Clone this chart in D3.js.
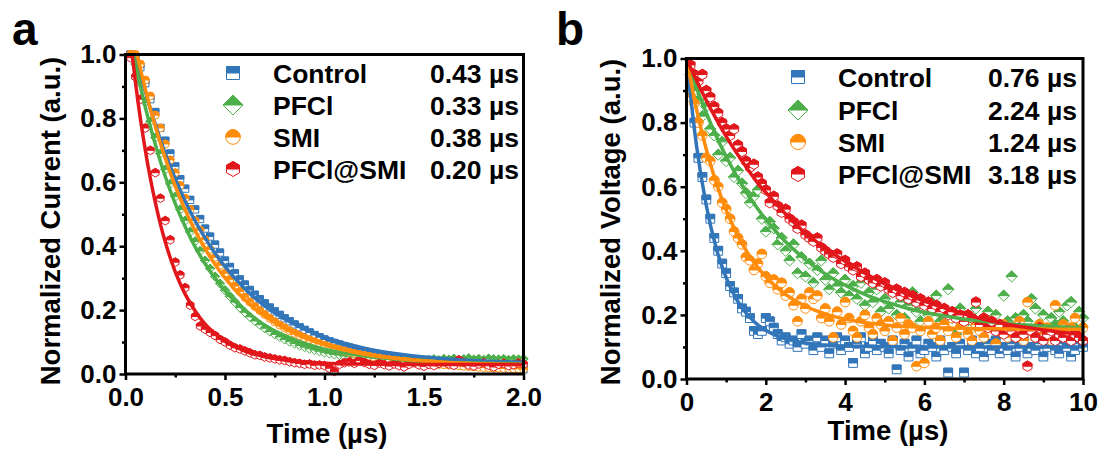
<!DOCTYPE html>
<html>
<head>
<meta charset="utf-8">
<script src="https://cdn.jsdelivr.net/npm/d3@7"></script>
<style>
  html, body { margin: 0; padding: 0; background: #fff; }
  svg { display: block; }
  text { font-family: "Liberation Sans", Arial, sans-serif; font-weight: bold; fill: #000; }
</style>
</head>
<body>
<svg id="fig" width="1103" height="450"></svg>
<script>
// ---- series definitions ----
const seriesNames  = ["Control", "PFCl", "SMI", "PFCl@SMI"];
const seriesColors = ["#3276b9", "#4caf4a", "#ff8c0a", "#e2171c"];
const seriesShapes = ["square", "diamond", "circle", "hexagon"];
const lifetimesA = ["0.43 µs", "0.33 µs", "0.38 µs", "0.20 µs"];
const lifetimesB = ["0.76 µs", "2.24 µs", "1.24 µs", "3.18 µs"];

// ---- panel a: transient photocurrent (sampled every 0.025 µs from 0.025 µs) ----
const timeStartA = 0.025, timeStepA = 0.025;
const currentControl = [
  1.00, 0.99, 0.96, 0.91, 0.86, 0.82, 0.77, 0.73, 0.69, 0.65,
  0.61, 0.58, 0.545, 0.515, 0.485, 0.455, 0.43, 0.405, 0.38, 0.355,
  0.335, 0.315, 0.296, 0.28, 0.263, 0.248, 0.234, 0.221, 0.208, 0.196,
  0.185, 0.174, 0.165, 0.155, 0.146, 0.138, 0.130, 0.122, 0.115, 0.108,
  0.102, 0.097, 0.092, 0.087, 0.082, 0.078, 0.074, 0.070, 0.067, 0.063,
  0.060, 0.057, 0.055, 0.052, 0.050, 0.048, 0.046, 0.044, 0.042, 0.041,
  0.040, 0.038, 0.037, 0.036, 0.035, 0.034, 0.034, 0.033, 0.032, 0.031,
  0.030, 0.028, 0.026, 0.024, 0.022, 0.020, 0.018, 0.016, 0.015, 0.014
];
const currentPFCl = [
  1.00, 0.97, 0.91, 0.85, 0.79, 0.74, 0.69, 0.64, 0.595, 0.555,
  0.515, 0.48, 0.445, 0.415, 0.385, 0.355, 0.33, 0.305, 0.283, 0.262,
  0.243, 0.225, 0.208, 0.193, 0.179, 0.166, 0.154, 0.143, 0.133, 0.124,
  0.116, 0.108, 0.101, 0.095, 0.089, 0.084, 0.079, 0.075, 0.071, 0.067,
  0.064, 0.061, 0.059, 0.056, 0.054, 0.052, 0.050, 0.049, 0.047, 0.046,
  0.045, 0.044, 0.043, 0.042, 0.042, 0.041, 0.041, 0.040, 0.040, 0.040,
  0.044, 0.046, 0.043, 0.047, 0.045, 0.048, 0.044, 0.046, 0.049, 0.045,
  0.047, 0.044, 0.048, 0.046, 0.045, 0.047, 0.044, 0.046, 0.045, 0.047
];
const currentSMI = [
  1.00, 1.00, 0.97, 0.92, 0.87, 0.81, 0.77, 0.72, 0.67, 0.63,
  0.59, 0.55, 0.515, 0.48, 0.45, 0.42, 0.39, 0.365, 0.34, 0.315,
  0.295, 0.275, 0.258, 0.240, 0.225, 0.211, 0.198, 0.186, 0.174, 0.163,
  0.153, 0.144, 0.135, 0.127, 0.120, 0.113, 0.107, 0.101, 0.095, 0.090,
  0.085, 0.080, 0.076, 0.072, 0.068, 0.064, 0.061, 0.058, 0.055, 0.052,
  0.050, 0.047, 0.045, 0.043, 0.041, 0.040, 0.038, 0.037, 0.035, 0.034,
  0.033, 0.032, 0.030, 0.029, 0.028, 0.027, 0.026, 0.024, 0.023, 0.022,
  0.021, 0.020, 0.019, 0.018, 0.018, 0.017, 0.017, 0.016, 0.016, 0.015
];
const currentPFClSMI = [
  0.99, 0.93, 0.86, 0.77, 0.70, 0.63, 0.55, 0.48, 0.42, 0.35,
  0.31, 0.27, 0.215, 0.18, 0.15, 0.14, 0.13, 0.12, 0.108, 0.100,
  0.090, 0.082, 0.078, 0.072, 0.066, 0.060, 0.058, 0.053, 0.050, 0.047,
  0.044, 0.042, 0.038, 0.035, 0.033, 0.030, 0.031, 0.027, 0.028, 0.026,
  0.018, 0.008, 0.030, 0.035, 0.038, 0.033, 0.042, 0.036, 0.030, 0.027,
  0.034, 0.029, 0.025, 0.031, 0.026, 0.022, 0.030, 0.035, 0.028, 0.024,
  0.030, 0.026, 0.033, 0.038, 0.031, 0.027, 0.044, 0.036, 0.028, 0.025,
  0.031, 0.035, 0.027, 0.022, 0.030, 0.033, 0.026, 0.029, 0.034, 0.031
];

// exponential fit curves, panel a
const fitTimesA = [0.02, 0.05, 0.075, 0.1, 0.125, 0.15, 0.175, 0.2, 0.25, 0.3, 0.35, 0.4,
                   0.45, 0.5, 0.6, 0.7, 0.8, 0.9, 1.0, 1.2, 1.4, 1.6, 1.8, 2.0];
const fitCurrentControl = [1.078, 1.000, 0.940, 0.884, 0.830, 0.781, 0.734, 0.690, 0.611, 0.541, 0.479, 0.426,
                           0.378, 0.336, 0.267, 0.213, 0.172, 0.140, 0.115, 0.081, 0.060, 0.048, 0.041, 0.037];
const fitCurrentPFCl    = [1.063, 0.970, 0.900, 0.834, 0.774, 0.718, 0.666, 0.618, 0.533, 0.461, 0.398, 0.345,
                           0.300, 0.260, 0.199, 0.153, 0.120, 0.096, 0.078, 0.056, 0.044, 0.037, 0.034, 0.032];
const fitCurrentSMI     = [1.112, 1.022, 0.954, 0.890, 0.830, 0.775, 0.723, 0.675, 0.588, 0.513, 0.448, 0.392,
                           0.343, 0.301, 0.232, 0.181, 0.142, 0.113, 0.091, 0.062, 0.046, 0.037, 0.032, 0.029];
const fitCurrentPFClSMI = [1.073, 0.913, 0.798, 0.699, 0.612, 0.536, 0.470, 0.413, 0.320, 0.250, 0.197, 0.156,
                           0.126, 0.102, 0.072, 0.054, 0.044, 0.038, 0.034, 0.031, 0.030, 0.030, 0.030, 0.030];

// ---- panel b: transient photovoltage (sampled every 0.1 µs from 0.1 µs) ----
const timeStartB = 0.1, timeStepB = 0.1;
const voltageControl = [
  0.90, 0.80, 0.69, 0.63, 0.56, 0.50, 0.44, 0.40, 0.36, 0.33,
  0.29, 0.27, 0.25, 0.22, 0.21, 0.19, 0.15, 0.14, 0.15, 0.19,
  0.18, 0.16, 0.14, 0.12, 0.13, 0.11, 0.12, 0.10, 0.14, 0.11,
  0.12, 0.09, 0.13, 0.10, 0.12, 0.08, 0.11, 0.13, 0.09, 0.12,
  0.10, 0.05, 0.11, 0.13, 0.08, 0.10, 0.12, 0.09, 0.11, 0.10,
  0.08, 0.12, 0.03, 0.09, 0.11, 0.07, 0.10, 0.12, 0.08, 0.09,
  0.11, 0.10, 0.07, 0.12, 0.09, 0.02, 0.10, 0.08, 0.11, 0.02,
  0.09, 0.12, 0.08, 0.10, 0.07, 0.11, 0.09, 0.12, 0.08, 0.10,
  0.09, 0.11, 0.07, 0.10, 0.12, 0.08, 0.10, 0.09, 0.11, 0.07,
  0.10, 0.12, 0.09, 0.08, 0.11, 0.10, 0.07, 0.09, 0.11, 0.10
];
const voltagePFCl = [
  0.95, 0.90, 0.87, 0.82, 0.85, 0.78, 0.76, 0.70, 0.74, 0.68,
  0.69, 0.63, 0.65, 0.61, 0.58, 0.55, 0.57, 0.59, 0.50, 0.46,
  0.49, 0.47, 0.42, 0.44, 0.40, 0.37, 0.42, 0.33, 0.38, 0.32,
  0.36, 0.30, 0.34, 0.37, 0.31, 0.28, 0.33, 0.29, 0.27, 0.31,
  0.26, 0.29, 0.25, 0.30, 0.23, 0.27, 0.24, 0.28, 0.21, 0.25,
  0.22, 0.27, 0.20, 0.24, 0.19, 0.23, 0.27, 0.21, 0.18, 0.22,
  0.20, 0.24, 0.26, 0.18, 0.21, 0.28, 0.19, 0.14, 0.22, 0.17,
  0.20, 0.18, 0.22, 0.15, 0.19, 0.21, 0.17, 0.20, 0.16, 0.26,
  0.18, 0.32, 0.19, 0.16, 0.20, 0.18, 0.25, 0.22, 0.17, 0.20,
  0.15, 0.19, 0.17, 0.21, 0.18, 0.23, 0.24, 0.16, 0.21, 0.19
];
const voltageSMI = [
  0.88, 0.86, 0.80, 0.76, 0.69, 0.68, 0.62, 0.60, 0.55, 0.53,
  0.50, 0.46, 0.44, 0.42, 0.38, 0.37, 0.34, 0.36, 0.39, 0.32,
  0.30, 0.31, 0.28, 0.30, 0.26, 0.27, 0.23, 0.18, 0.25, 0.22,
  0.27, 0.25, 0.26, 0.19, 0.22, 0.18, 0.13, 0.21, 0.17, 0.24,
  0.19, 0.15, 0.13, 0.18, 0.20, 0.16, 0.14, 0.19, 0.17, 0.15,
  0.18, 0.12, 0.16, 0.19, 0.14, 0.17, 0.16, 0.04, 0.15, 0.05,
  0.18, 0.14, 0.16, 0.12, 0.17, 0.15, 0.19, 0.13, 0.16, 0.18,
  0.14, 0.12, 0.17, 0.15, 0.13, 0.18, 0.16, 0.11, 0.15, 0.17,
  0.13, 0.16, 0.14, 0.18, 0.12, 0.24, 0.15, 0.13, 0.17, 0.14,
  0.16, 0.12, 0.23, 0.15, 0.17, 0.13, 0.16, 0.19, 0.14, 0.16
];
const voltagePFClSMI = [
  0.98, 0.95, 0.93, 0.95, 0.90, 0.88, 0.85, 0.83, 0.80, 0.78,
  0.76, 0.78, 0.73, 0.71, 0.68, 0.66, 0.67, 0.63, 0.61, 0.59,
  0.55, 0.57, 0.54, 0.52, 0.53, 0.50, 0.49, 0.47, 0.48, 0.45,
  0.44, 0.43, 0.44, 0.41, 0.40, 0.39, 0.38, 0.39, 0.36, 0.37,
  0.35, 0.34, 0.35, 0.32, 0.33, 0.31, 0.30, 0.31, 0.29, 0.30,
  0.28, 0.27, 0.28, 0.26, 0.27, 0.25, 0.26, 0.24, 0.25, 0.23,
  0.24, 0.22, 0.23, 0.21, 0.22, 0.20, 0.21, 0.19, 0.20, 0.18,
  0.20, 0.19, 0.24, 0.17, 0.19, 0.16, 0.18, 0.15, 0.17, 0.14,
  0.16, 0.15, 0.13, 0.16, 0.14, 0.04, 0.15, 0.13, 0.16, 0.12,
  0.14, 0.15, 0.12, 0.14, 0.13, 0.15, 0.12, 0.14, 0.13, 0.12
];

// exponential fit curves, panel b (every 0.25 µs from 0)
const fitStartB = 0, fitStepB = 0.25;
const fitVoltageControl = [
  1.000, 0.730, 0.541, 0.408, 0.316, 0.251, 0.206, 0.174, 0.152, 0.136, 0.125,
  0.118, 0.112, 0.109, 0.106, 0.104, 0.103, 0.102, 0.102, 0.101, 0.101, 0.101,
  0.100, 0.100, 0.100, 0.100, 0.100, 0.100, 0.100, 0.100, 0.100, 0.100, 0.100,
  0.100, 0.100, 0.100, 0.100, 0.100, 0.100, 0.100, 0.100
];
const fitVoltagePFCl = [
  1.000, 0.910, 0.830, 0.758, 0.694, 0.637, 0.585, 0.539, 0.498, 0.461, 0.428,
  0.399, 0.373, 0.349, 0.328, 0.309, 0.293, 0.278, 0.264, 0.252, 0.241, 0.232,
  0.223, 0.215, 0.208, 0.202, 0.197, 0.192, 0.187, 0.183, 0.180, 0.177, 0.174,
  0.171, 0.169, 0.167, 0.165, 0.164, 0.162, 0.161, 0.160
];
const fitVoltageSMI = [
  1.000, 0.843, 0.716, 0.612, 0.527, 0.458, 0.402, 0.356, 0.319, 0.289, 0.264,
  0.244, 0.227, 0.214, 0.203, 0.194, 0.187, 0.181, 0.176, 0.172, 0.169, 0.166,
  0.164, 0.163, 0.161, 0.160, 0.159, 0.158, 0.158, 0.157, 0.157, 0.157, 0.156,
  0.156, 0.156, 0.156, 0.156, 0.155, 0.155, 0.155, 0.155
];
const fitVoltagePFClSMI = [
  1.000, 0.932, 0.869, 0.811, 0.757, 0.708, 0.662, 0.619, 0.582, 0.548, 0.515,
  0.484, 0.455, 0.431, 0.408, 0.387, 0.367, 0.348, 0.330, 0.313, 0.297, 0.282,
  0.268, 0.255, 0.243, 0.232, 0.222, 0.212, 0.203, 0.194, 0.186, 0.179, 0.173,
  0.167, 0.162, 0.158, 0.153, 0.149, 0.145, 0.142, 0.139
];

// ---- tick values ----
const xTicksA = [0, 0.5, 1.0, 1.5, 2.0];
const xMinorA = [0.25, 0.75, 1.25, 1.75];
const xTicksB = [0, 2, 4, 6, 8, 10];
const xMinorB = [1, 3, 5, 7, 9];
const yTicks  = [0, 0.2, 0.4, 0.6, 0.8, 1.0];
const yMinor  = [0.1, 0.3, 0.5, 0.7, 0.9];

// ---- helpers ----
const grid = (start, step, n) => d3.range(n).map(i => +(start + i * step).toFixed(4));

// half-filled marker outlines centred on the origin: full outline + upper half
function markerPaths(shape, r) {
  if (shape === "square") {
    return { full: `M${-r},${-r}H${r}V${r}H${-r}Z`, top: `M${-r},${-r}H${r}V0H${-r}Z` };
  }
  if (shape === "diamond") {
    return { full: `M0,${-r}L${r},0L0,${r}L${-r},0Z`, top: `M0,${-r}L${r},0L${-r},0Z` };
  }
  if (shape === "circle") {
    return {
      full: `M${-r},0A${r},${r} 0 1,1 ${r},0A${r},${r} 0 1,1 ${-r},0Z`,
      top: `M${-r},0A${r},${r} 0 0,1 ${r},0Z`
    };
  }
  const w = r * Math.cos(Math.PI / 6), h = r / 2;
  return {
    full: `M0,${-r}L${w},${-h}L${w},${h}L0,${r}L${-w},${h}L${-w},${-h}Z`,
    top: `M${-w},0L${-w},${-h}L0,${-r}L${w},${-h}L${w},0Z`
  };
}

function drawMarker(sel, shape, r, color) {
  const p = markerPaths(shape, r);
  sel.append("path").attr("d", p.full).attr("fill", "#fff")
     .attr("stroke", color).attr("stroke-width", 1);
  sel.append("path").attr("d", p.top).attr("fill", color)
     .attr("stroke", color).attr("stroke-width", 1);
}

const svg = d3.select("#fig");

function drawPanel(cfg) {
  const x = d3.scaleLinear().domain(cfg.xDomain).range([cfg.left, cfg.right]);
  const y = d3.scaleLinear().domain([0, 1]).range([cfg.bottom, cfg.top]);
  const g = svg.append("g");

  const clipId = "clip-" + cfg.id;
  g.append("clipPath").attr("id", clipId).append("rect")
    .attr("x", cfg.left).attr("y", cfg.top)
    .attr("width", cfg.right - cfg.left).attr("height", cfg.bottom - cfg.top);

  // data markers
  cfg.data.forEach((vals, s) => {
    const times = grid(cfg.tStart, cfg.tStep, vals.length);
    const sg = g.append("g");
    vals.forEach((v, i) => {
      const m = sg.append("g").attr("transform", `translate(${x(times[i])},${y(v)})`);
      drawMarker(m, seriesShapes[s], cfg.markerR[s], seriesColors[s]);
    });
  });

  // fit curves
  const line = d3.line().x(d => x(d[0])).y(d => y(d[1])).curve(d3.curveMonotoneX);
  cfg.fits.forEach((vals, s) => {
    const pts = vals.map((v, i) => [cfg.fitTimes[i], v]);
    g.append("path").attr("d", line(pts)).attr("clip-path", `url(#${clipId})`)
      .attr("fill", "none").attr("stroke", seriesColors[s])
      .attr("stroke-width", 3.5).attr("stroke-linejoin", "round");
  });

  // axes
  const fmtY = d3.format(".1f");
  const xAxis = d3.axisBottom(x).tickValues(cfg.xTicks).tickFormat(cfg.xFormat)
    .tickSize(6).tickSizeOuter(0).tickPadding(8);
  const xMinorAxis = d3.axisBottom(x).tickValues(cfg.xMinor).tickFormat("")
    .tickSize(3.5).tickSizeOuter(0);
  const yAxis = d3.axisLeft(y).tickValues(yTicks).tickFormat(fmtY)
    .tickSize(6).tickSizeOuter(0).tickPadding(3);
  const yMinorAxis = d3.axisLeft(y).tickValues(yMinor).tickFormat("")
    .tickSize(3.5).tickSizeOuter(0);

  const styleAxis = a => {
    a.attr("font-family", null).attr("font-size", null);
    a.select(".domain").remove();
    a.selectAll(".tick line").attr("stroke", "#000").attr("stroke-width", 2.5);
    a.selectAll(".tick text").attr("font-size", 26).attr("fill", "#000");
  };
  g.append("g").attr("transform", `translate(0,${cfg.bottom})`).call(xAxis).call(styleAxis);
  g.append("g").attr("transform", `translate(0,${cfg.bottom})`).call(xMinorAxis).call(styleAxis);
  g.append("g").attr("transform", `translate(${cfg.left},0)`).call(yAxis).call(styleAxis);
  g.append("g").attr("transform", `translate(${cfg.left},0)`).call(yMinorAxis).call(styleAxis);

  // frame
  g.append("rect").attr("x", cfg.left).attr("y", cfg.top)
    .attr("width", cfg.right - cfg.left).attr("height", cfg.bottom - cfg.top)
    .attr("fill", "none").attr("stroke", "#000").attr("stroke-width", 3);

  // axis titles
  g.append("text").attr("x", cfg.xTitlePos[0]).attr("y", cfg.xTitlePos[1])
    .attr("text-anchor", "middle").attr("font-size", 27.5).text("Time (µs)");
  g.append("text")
    .attr("transform", `translate(${cfg.yTitlePos[0]},${cfg.yTitlePos[1]}) rotate(-90)`)
    .attr("text-anchor", "middle").attr("font-size", 27.5).text(cfg.yTitle);

  // panel letter
  g.append("text").attr("x", cfg.letterPos[0]).attr("y", cfg.letterPos[1])
    .attr("font-size", 46).text(cfg.letter);

  // legend
  const lg = g.append("g");
  seriesNames.forEach((name, s) => {
    const cy = cfg.legend.rows[s];
    const m = lg.append("g").attr("transform", `translate(${cfg.legend.markerX},${cy})`);
    drawMarker(m, seriesShapes[s], cfg.legend.markerR[s], seriesColors[s]);
    lg.append("text").attr("x", cfg.legend.nameX).attr("y", cy).attr("dy", "0.36em")
      .attr("font-size", 26.5).text(name);
    lg.append("text").attr("x", cfg.legend.valueX).attr("y", cy).attr("dy", "0.36em")
      .attr("font-size", 26.5).text(cfg.lifetimes[s]);
  });
}

drawPanel({
  id: "a", letter: "a", letterPos: [12, 45],
  left: 125.5, right: 523.5, top: 54.5, bottom: 374,
  xDomain: [0, 2], xTicks: xTicksA, xMinor: xMinorA, xFormat: d3.format(".1f"),
  tStart: timeStartA, tStep: timeStepA,
  data: [currentControl, currentPFCl, currentSMI, currentPFClSMI],
  markerR: [3.6, 4.6, 3.9, 4.3],
  fitTimes: fitTimesA,
  fits: [fitCurrentControl, fitCurrentPFCl, fitCurrentSMI, fitCurrentPFClSMI],
  yTitle: "Normalized Current (a.u.)", yTitlePos: [60, 221], xTitlePos: [327, 443],
  lifetimes: lifetimesA,
  legend: { markerX: 233, nameX: 273, valueX: 430, rows: [73, 105, 137, 169],
            markerR: [6.5, 10, 7.3, 7.5] }
});

drawPanel({
  id: "b", letter: "b", letterPos: [556, 45],
  left: 686.5, right: 1083, top: 58.5, bottom: 379,
  xDomain: [0, 10], xTicks: xTicksB, xMinor: xMinorB, xFormat: d3.format("d"),
  tStart: timeStartB, tStep: timeStepB,
  data: [voltageControl, voltagePFCl, voltageSMI, voltagePFClSMI],
  markerR: [4.4, 5.6, 4.8, 5.2],
  fitTimes: grid(fitStartB, fitStepB, fitVoltageControl.length),
  fits: [fitVoltageControl, fitVoltagePFCl, fitVoltageSMI, fitVoltagePFClSMI],
  yTitle: "Normalized Voltage (a.u.)", yTitlePos: [620, 222], xTitlePos: [888, 440],
  lifetimes: lifetimesB,
  legend: { markerX: 798, nameX: 838, valueX: 988, rows: [77, 110, 142, 174],
            markerR: [6.5, 10, 7.5, 7.5] }
});
</script>
</body>
</html>
